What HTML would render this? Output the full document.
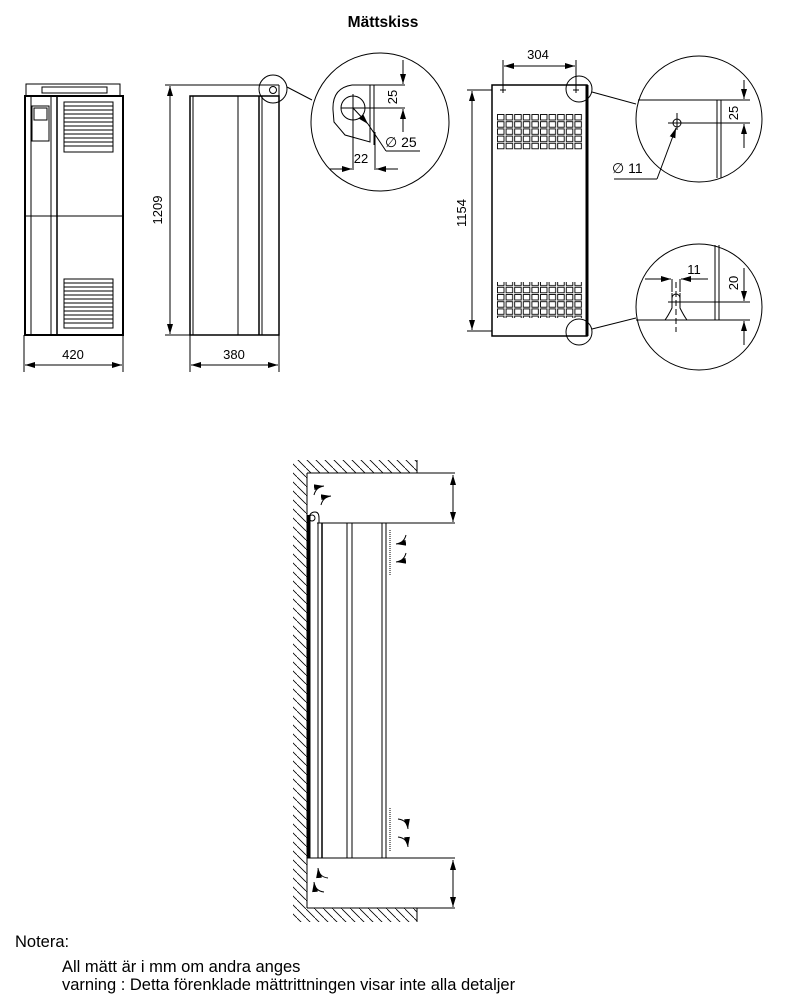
<!DOCTYPE html>
<html><head><meta charset="utf-8"><style>
body{margin:0;background:#fff;}
svg{display:block;font-family:"Liberation Sans",sans-serif;}
</style></head><body>
<svg width="785" height="1003" viewBox="0 0 785 1003" xmlns="http://www.w3.org/2000/svg">
<defs>
<marker id="a" markerWidth="10" markerHeight="6" refX="10" refY="3" orient="auto-start-reverse" markerUnits="userSpaceOnUse"><path d="M0,0L10,3L0,6z" fill="#000"/></marker>
<pattern id="h" width="9" height="9" patternUnits="userSpaceOnUse"><path d="M-1,-1L10,10" stroke="#000" stroke-width="0.8"/></pattern>
<pattern id="g" width="8.6" height="7.2" patternUnits="userSpaceOnUse" x="497" y="114"><rect x="0.5" y="0.5" width="6.5" height="5.5" fill="none" stroke="#000" stroke-width="0.9"/></pattern>
</defs>
<g fill="none" stroke="#000" stroke-width="1">
<text x="383" y="27" font-size="15.5" font-weight="bold" text-anchor="middle" fill="#000" stroke="none">Mättskiss</text>

<!-- front view -->
<rect x="26" y="84" width="94" height="12"/>
<rect x="42" y="87" width="65" height="6"/>
<rect x="25" y="96" width="98" height="239" stroke-width="2"/>
<line x1="31" y1="96" x2="31" y2="335"/>
<line x1="51" y1="96" x2="51" y2="335"/>
<line x1="57" y1="96" x2="57" y2="335" stroke-width="1.5"/>
<line x1="25" y1="216" x2="123" y2="216"/>
<rect x="32" y="106" width="17" height="35"/>
<rect x="34" y="108" width="13" height="12"/>
<path d="M64,102h49v50h-49z M64,106h49 M64,110h49 M64,114h49 M64,118h49 M64,122h49 M64,126h49 M64,130h49 M64,134h49 M64,138h49 M64,142h49 M64,146h49"/>
<path d="M64,279h49v49h-49z M64,283h49 M64,287h49 M64,291h49 M64,295h49 M64,299h49 M64,303h49 M64,307h49 M64,311h49 M64,315h49 M64,319h49 M64,323h49"/>
<line x1="24" y1="335" x2="24" y2="372"/><line x1="123" y1="335" x2="123" y2="372"/>
<line x1="25" y1="365" x2="122" y2="365" marker-start="url(#a)" marker-end="url(#a)"/>
<text x="73" y="359" font-size="13" text-anchor="middle" fill="#000" stroke="none">420</text>

<!-- side view -->
<line x1="165" y1="85" x2="279" y2="85"/>
<line x1="165" y1="335" x2="190" y2="335"/>
<rect x="190" y="96" width="89" height="239" stroke-width="1.5"/>
<line x1="193" y1="96" x2="193" y2="335"/>
<line x1="238" y1="96" x2="238" y2="335"/>
<line x1="259" y1="96" x2="259" y2="335" stroke-width="1.5"/>
<line x1="262" y1="96" x2="262" y2="335"/>
<line x1="279" y1="85" x2="279" y2="96"/>
<line x1="170" y1="86" x2="170" y2="334" marker-start="url(#a)" marker-end="url(#a)"/>
<text transform="translate(162,210) rotate(-90)" font-size="13" text-anchor="middle" fill="#000" stroke="none">1209</text>
<line x1="190" y1="335" x2="190" y2="372"/><line x1="279" y1="335" x2="279" y2="372"/>
<line x1="191" y1="365" x2="278" y2="365" marker-start="url(#a)" marker-end="url(#a)"/>
<text x="234" y="359" font-size="13" text-anchor="middle" fill="#000" stroke="none">380</text>
<circle cx="273" cy="89" r="14"/>
<circle cx="273" cy="90" r="3.5"/>
<line x1="287" y1="87" x2="312" y2="100"/>

<!-- detail 1 -->
<circle cx="380" cy="122" r="69"/>
<path d="M352,85 Q332,88 333,110 L334,122 L345,135 L370,142 L370,85"/>
<line x1="352" y1="85" x2="405" y2="85"/>
<line x1="374" y1="85" x2="374" y2="145"/>
<circle cx="353" cy="108" r="12"/>
<line x1="341" y1="108" x2="405" y2="108"/><line x1="353" y1="94" x2="353" y2="170"/>
<line x1="375" y1="132" x2="375" y2="170"/>
<line x1="403" y1="60" x2="403" y2="84" marker-end="url(#a)"/>
<line x1="403" y1="132" x2="403" y2="109" marker-end="url(#a)"/>
<text transform="translate(397,97) rotate(-90)" font-size="13" text-anchor="middle" fill="#000" stroke="none">25</text>
<line x1="353" y1="108" x2="368" y2="124" marker-end="url(#a)"/>
<line x1="368" y1="124" x2="386" y2="151"/><line x1="386" y1="151" x2="420" y2="151"/>
<text x="385" y="147" font-size="14" fill="#000" stroke="none">∅ 25</text>
<line x1="330" y1="169" x2="352" y2="169" marker-end="url(#a)"/>
<line x1="398" y1="169" x2="376" y2="169" marker-end="url(#a)"/>
<text x="361" y="163" font-size="13" text-anchor="middle" fill="#000" stroke="none">22</text>

<!-- back view -->
<rect x="492" y="85" width="95" height="251" stroke-width="1.5"/>
<line x1="587" y1="85" x2="587" y2="336" stroke-width="3"/>
<rect x="497" y="114" width="86" height="36" fill="url(#g)" stroke="none"/>
<rect x="497" y="282" width="86" height="36" fill="url(#g)" stroke="none"/>
<line x1="467" y1="90" x2="492" y2="90"/><line x1="467" y1="331" x2="492" y2="331"/>
<line x1="472" y1="91" x2="472" y2="330" marker-start="url(#a)" marker-end="url(#a)"/>
<text transform="translate(466,213) rotate(-90)" font-size="13" text-anchor="middle" fill="#000" stroke="none">1154</text>
<line x1="503" y1="60" x2="503" y2="90"/><line x1="576" y1="60" x2="576" y2="90"/>
<line x1="504" y1="66" x2="575" y2="66" marker-start="url(#a)" marker-end="url(#a)"/>
<text x="538" y="59" font-size="13" text-anchor="middle" fill="#000" stroke="none">304</text>
<path d="M500,90h6M503,87v6M573,90h6M576,87v6"/>
<circle cx="579" cy="89" r="13"/>
<circle cx="579" cy="332" r="13"/>
<line x1="592" y1="92" x2="636" y2="104"/>
<line x1="592" y1="329" x2="636" y2="318"/>

<!-- detail 2 -->
<circle cx="699" cy="119" r="63"/>
<line x1="638" y1="100" x2="750" y2="100"/>
<line x1="717" y1="100" x2="717" y2="178"/><line x1="721" y1="100" x2="721" y2="178"/>
<circle cx="677" cy="123" r="4"/>
<line x1="668" y1="123" x2="750" y2="123"/><line x1="677" y1="113" x2="677" y2="130"/>
<line x1="744" y1="80" x2="744" y2="99" marker-end="url(#a)"/>
<line x1="744" y1="148" x2="744" y2="124" marker-end="url(#a)"/>
<text transform="translate(738,113) rotate(-90)" font-size="13" text-anchor="middle" fill="#000" stroke="none">25</text>
<line x1="657" y1="179" x2="676" y2="128" marker-end="url(#a)"/>
<line x1="614" y1="179" x2="657" y2="179"/>
<text x="612" y="173" font-size="14" fill="#000" stroke="none">∅  11</text>

<!-- detail 3 -->
<circle cx="699" cy="307" r="63"/>
<line x1="715" y1="245" x2="715" y2="320"/><line x1="719" y1="245" x2="719" y2="320"/>
<line x1="636" y1="320" x2="750" y2="320"/>
<line x1="668" y1="302" x2="750" y2="302"/>
<path d="M672,293 v15 q-4,8 -7,12 M680,293 v15 q4,8 7,12"/>
<path d="M672,298 a4,4 0 0 1 8,0"/>
<line x1="676" y1="282" x2="676" y2="332" stroke-dasharray="6,3"/>
<line x1="645" y1="279" x2="671" y2="279" marker-end="url(#a)"/>
<line x1="708" y1="279" x2="681" y2="279" marker-end="url(#a)"/>
<line x1="672" y1="279" x2="672" y2="292"/><line x1="680" y1="279" x2="680" y2="292"/>
<text x="694" y="274" font-size="13" text-anchor="middle" fill="#000" stroke="none">11</text>
<line x1="744" y1="268" x2="744" y2="301" marker-end="url(#a)"/>
<line x1="744" y1="345" x2="744" y2="321" marker-end="url(#a)"/>
<text transform="translate(738,283) rotate(-90)" font-size="13" text-anchor="middle" fill="#000" stroke="none">20</text>

<!-- installation view -->
<rect x="293" y="460" width="14" height="462" fill="url(#h)" stroke="none"/>
<rect x="307" y="460" width="110" height="13" fill="url(#h)" stroke="none"/>
<rect x="307" y="908" width="110" height="14" fill="url(#h)" stroke="none"/>
<line x1="307" y1="473" x2="307" y2="908"/>
<line x1="307" y1="473" x2="455" y2="473"/>
<line x1="417" y1="460" x2="417" y2="473"/>
<line x1="307" y1="908" x2="455" y2="908"/>
<line x1="417" y1="908" x2="417" y2="922"/>
<line x1="317" y1="523" x2="455" y2="523"/>
<line x1="307" y1="858" x2="455" y2="858"/>
<line x1="453" y1="475" x2="453" y2="522" marker-start="url(#a)" marker-end="url(#a)"/>
<line x1="453" y1="860" x2="453" y2="907" marker-start="url(#a)" marker-end="url(#a)"/>
<line x1="309" y1="515" x2="309" y2="858" stroke-width="3"/>
<path d="M309,520 q0,-8 6,-8 q4,0 4,6 v5"/>
<circle cx="312" cy="518" r="3"/>
<line x1="318" y1="523" x2="318" y2="858"/><line x1="322" y1="523" x2="322" y2="858" stroke-width="1.5"/>
<line x1="347" y1="523" x2="347" y2="858"/><line x1="352" y1="523" x2="352" y2="858"/>
<line x1="382" y1="523" x2="382" y2="858"/><line x1="386" y1="523" x2="386" y2="858"/>
<line x1="390" y1="530" x2="390" y2="575" stroke-dasharray="1,1"/>
<line x1="390" y1="808" x2="390" y2="852" stroke-dasharray="1,1"/>
<path d="M314,495 q2,-8 10,-9" marker-end="url(#a)"/>
<path d="M321,505 q2,-8 10,-9" marker-end="url(#a)"/>
<path d="M406,535 q-2,8 -10,9" marker-end="url(#a)"/>
<path d="M406,553 q-2,8 -10,9" marker-end="url(#a)"/>
<path d="M398,819 q9,1 10,10" marker-end="url(#a)"/>
<path d="M398,837 q9,1 10,10" marker-end="url(#a)"/>
<path d="M328,878 q-9,-1 -10,-10" marker-end="url(#a)"/>
<path d="M324,892 q-9,-1 -10,-10" marker-end="url(#a)"/>

<text x="15" y="947" font-size="16.5" fill="#000" stroke="none">Notera:</text>
<text x="62" y="972" font-size="16.5" fill="#000" stroke="none">All mätt är i mm om andra anges</text>
<text x="62" y="990" font-size="16.5" fill="#000" stroke="none">varning : Detta förenklade mättrittningen visar inte alla detaljer</text>
</g>
</svg>
</body></html>
